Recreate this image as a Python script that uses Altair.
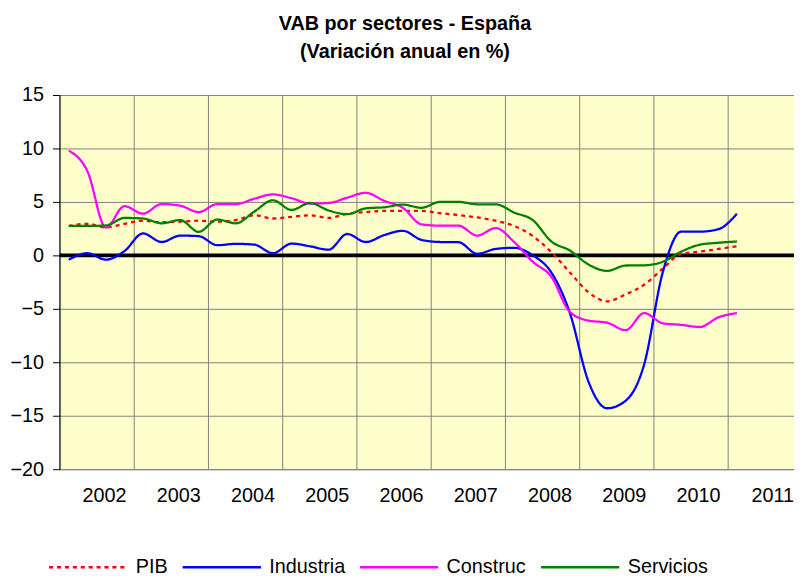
import altair as alt
import pandas as pd

# Quarterly sampling points (year-month)
periods = [
    "2002-02", "2002-05", "2002-08", "2002-11",
    "2003-02", "2003-05", "2003-08", "2003-11",
    "2004-02", "2004-05", "2004-08", "2004-11",
    "2005-02", "2005-05", "2005-08", "2005-11",
    "2006-02", "2006-05", "2006-08", "2006-11",
    "2007-02", "2007-05", "2007-08", "2007-11",
    "2008-02", "2008-05", "2008-08", "2008-11",
    "2009-02", "2009-05", "2009-08", "2009-11",
    "2010-02", "2010-05", "2010-08", "2010-11",
    "2011-02",
]

pib = [2.75, 2.95, 2.62, 2.95, 3.24, 3.1, 3.15, 3.24, 3.15, 3.3, 3.75, 3.45,
       3.6, 3.75, 3.5, 3.88, 4.05, 4.17, 4.17, 4.17, 3.95, 3.77, 3.55, 3.24,
       2.75, 1.8, 0.3, -1.6, -3.45, -4.3, -3.65, -2.75, -1.25, 0.15, 0.35, 0.6, 0.85]
industria = [-0.4, 0.2, -0.4, 0.4, 2.05, 1.25, 1.85, 1.8, 0.95, 1.08, 1.0, 0.2,
             1.1, 0.85, 0.53, 2.0, 1.25, 1.9, 2.3, 1.45, 1.25, 1.23, 0.15, 0.6,
             0.71, 0.0, -1.6, -5.4, -11.8, -14.3, -13.6, -10.2, -1.6, 2.22, 2.22, 2.45, 3.9]
construc = [9.8, 7.9, 2.6, 4.6, 3.9, 4.8, 4.65, 4.05, 4.8, 4.8, 5.3, 5.7,
            5.35, 4.85, 4.9, 5.4, 5.85, 5.1, 4.45, 2.9, 2.78, 2.78, 1.85, 2.55,
            1.25, -0.6, -2.0, -5.3, -6.1, -6.3, -7.0, -5.4, -6.35, -6.5, -6.7, -5.8, -5.4]
servicios = [2.75, 2.75, 2.8, 3.5, 3.45, 3.0, 3.3, 2.2, 3.35, 3.0, 4.1, 5.15,
             4.25, 4.9, 4.2, 3.85, 4.4, 4.5, 4.75, 4.45, 5.0, 5.0, 4.78, 4.78,
             4.0, 3.3, 1.3, 0.45, -0.85, -1.45, -0.95, -0.93, -0.6, 0.35, 1.0, 1.18, 1.3]

series_names = ["PIB", "Industria", "Construc", "Servicios"]
series_colors = ["#FF0000", "#0000FF", "#FF00FF", "#008000"]
series_dash = [[4, 4], [1, 0], [1, 0], [1, 0]]
year_ticks = [2002, 2003, 2004, 2005, 2006, 2007, 2008, 2009, 2010, 2011]
y_ticks = [-20, -15, -10, -5, 0, 5, 10, 15]
baseline = [0]

FONT = "Liberation Sans"

rows = []
for name, vals in zip(series_names, [pib, industria, construc, servicios]):
    for p, v in zip(periods, vals):
        y, m = p.split("-")
        rows.append({"serie": name, "t": int(y) + (int(m) - 0.5) / 12, "value": v})
df = pd.DataFrame(rows)

x_scale = alt.Scale(domain=[2002, 2002 + 742 / 75], nice=False, zero=False)
y_scale = alt.Scale(domain=[-20, 15], nice=False, zero=False)

legend = alt.Legend(
    orient="none", legendX=-12, legendY=436, direction="horizontal", title=None,
    symbolType="stroke", symbolSize=6241, symbolStrokeWidth=2.5,
    labelFontSize=20, labelFont=FONT, labelColor="black", labelOffset=7,
    columnPadding=9, labelLimit=0,
)

lines = alt.Chart(df).mark_line(strokeWidth=2.3, interpolate="monotone").encode(
    x=alt.X("t:Q", scale=x_scale, axis=alt.Axis(
        values=year_ticks, title=None, format="d", grid=True, gridColor="#808080",
        gridWidth=1, ticks=False, tickSize=0, labelOffset=45, labelPadding=17,
        labelFontSize=20, labelFont=FONT, labelColor="black",
        domainColor="#808080", domainWidth=1, labelFlush=False, labelOverlap=False)),
    y=alt.Y("value:Q", scale=y_scale, axis=alt.Axis(
        values=y_ticks, title=None, grid=True, gridColor="#808080", gridWidth=1,
        tickSize=7, tickColor="black", domainColor="black", labelPadding=9,
        labelFontSize=20, labelFont=FONT, labelColor="black")),
    color=alt.Color("serie:N", scale=alt.Scale(domain=series_names, range=series_colors), legend=legend),
    strokeDash=alt.StrokeDash("serie:N", scale=alt.Scale(domain=series_names, range=series_dash), legend=legend),
    detail="serie:N",
)

zero = alt.Chart(pd.DataFrame({"y": baseline})).mark_rule(color="black", strokeWidth=4).encode(
    y=alt.Y("y:Q", scale=y_scale)
)

chart = alt.layer(zero, lines).properties(
    width=742, height=378,
    background="white",
    autosize=alt.AutoSizeParams(type="none"),
    padding={"left": 52, "top": 85, "right": 0, "bottom": 105},
    title=alt.Title(
        ["VAB por sectores - España", "(Variación anual en %)"],
        fontSize=20, fontWeight="bold", font=FONT, color="black",
        anchor="middle", offset=23, dx=-22, lineHeight=29,
    ),
).configure_view(fill="#FFFFCC", strokeWidth=0)

chart.save("out.html", embed_options={"renderer": "svg", "actions": False})
